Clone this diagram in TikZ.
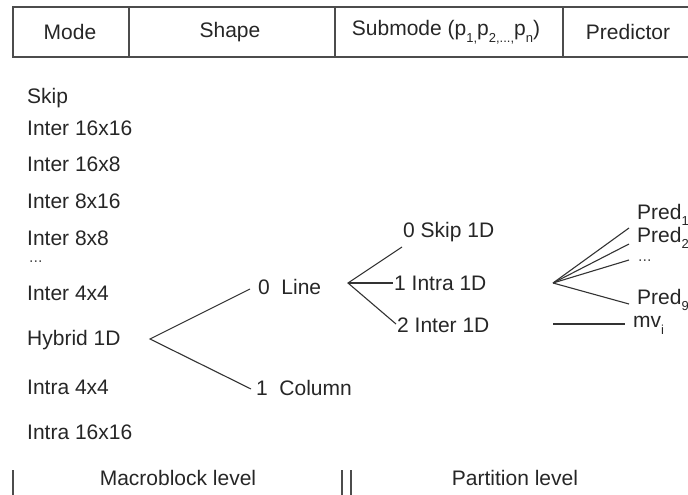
\documentclass[tikz,border=0pt]{standalone}
\usepackage{fontspec}
\setmainfont{Liberation Sans}
\newcommand\sbs[1]{\raisebox{-0.32em}{\fontsize{13}{13}\selectfont #1}}
\begin{document}
\begin{tikzpicture}[x=1pt,y=-1pt,
  lbl/.style={anchor=west,inner sep=0pt,font=\fontsize{21}{21}\selectfont,text=black!85},
  hdr/.style={inner sep=0pt,font=\fontsize{21}{21}\selectfont,text=black!85},
  dotlbl/.style={anchor=base west,inner sep=0pt,font=\fontsize{16}{16}\selectfont,text=black!70},
  conn/.style={draw=black!80,line width=1.1pt},
  frame/.style={draw=black!70,line width=1.3pt}]
\useasboundingbox (0,0) rectangle (688,495);
% header table
\draw[frame] (13,7) rectangle (700,57);
\draw[frame] (129,7) -- (129,57);
\draw[frame] (335,7) -- (335,57);
\draw[frame] (563,7) -- (563,57);
\node[hdr] (hmode) at (70,32) {Mode};
\node[hdr] (hshape) at (230,32) {Shape};
\node[hdr] (hsub) at (446,32) {Submode (p\sbs{1,}p\sbs{2,...,}p\sbs{n})};
\node[hdr] (hpred) at (628,32) {Predictor};
% modes
\node[lbl] (skip) at (27,98) {Skip};
\node[lbl] (i1616) at (27,128) {Inter 16x16};
\node[lbl] (i168) at (27,164) {Inter 16x8};
\node[lbl] (i816) at (27,201) {Inter 8x16};
\node[lbl] (i88) at (27,238) {Inter 8x8};
\node[dotlbl] (dots1) at (29,262) {...};
\node[lbl] (i44) at (27,293) {Inter 4x4};
\node[lbl] (hyb) at (27,340) {Hybrid 1D};
\node[lbl] (a44) at (27,387) {Intra 4x4};
\node[lbl] (a1616) at (27,432) {Intra 16x16};
% shapes
\node[lbl] (line) at (258,287) {0\hspace{0.55em}Line};
\node[lbl] (col) at (256,388) {1\hspace{0.55em}Column};
% submodes
\node[lbl] (s0) at (403,232) {0 Skip 1D};
\node[lbl] (s1) at (394,283) {1 Intra 1D};
\node[lbl] (s2) at (397,325) {2 Inter 1D};
% predictors
\node[lbl] (p1) at (637,215) {Pred\sbs{1}};
\node[lbl] (p2) at (637,238) {Pred\sbs{2}};
\node[dotlbl] (pdots) at (638,261) {...};
\node[lbl] (p9) at (637,300) {Pred\sbs{9}};
\node[lbl] (mv) at (633,325) {mv\sbs{i}};
% connector points
\coordinate (hA) at (150,339);
\coordinate (hU) at (250,289);
\coordinate (hL) at (251,389);
\coordinate (lA) at (348,283);
\coordinate (lU) at (402,247);
\coordinate (lM) at (393,283);
\coordinate (lL) at (396,324);
\coordinate (pA) at (553,283);
\coordinate (pE1) at (629,228);
\coordinate (pE2) at (629,244);
\coordinate (pE3) at (629,260);
\coordinate (pE9) at (629,304);
\coordinate (mA) at (553,324);
\coordinate (mE) at (625,324);
\draw[conn] (hU) -- (hA) -- (hL);
\draw[conn] (lU) -- (lA) -- (lL);
\draw[conn] (lA) -- (lM);
\draw[conn] (pA) -- (pE1);
\draw[conn] (pA) -- (pE2);
\draw[conn] (pA) -- (pE3);
\draw[conn] (pA) -- (pE9);
\draw[conn] (mA) -- (mE);
% bottom levels
\node[hdr] (mbl) at (178,478) {Macroblock level};
\node[hdr] (ptl) at (515,478) {Partition level};
\draw[frame] (13,470) -- (13,495);
\draw[frame] (342,470) -- (342,495);
\draw[frame] (351,470) -- (351,495);
\end{tikzpicture}
\end{document}
